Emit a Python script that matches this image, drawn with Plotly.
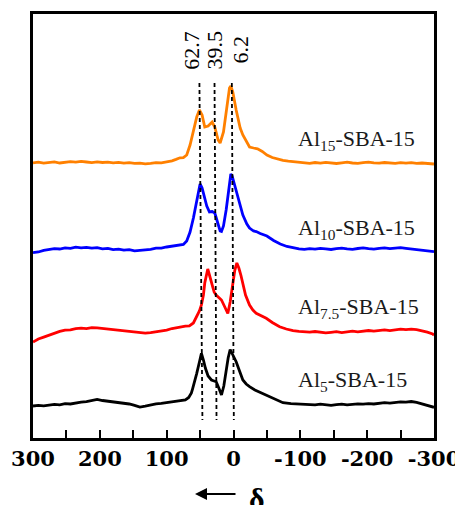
import plotly.graph_objects as go

# ---- data (chemical shift delta, intensity in arbitrary stacked units) ----
grid_left = list(range(300, 99, -8))          # 300 ... 100
grid_right = list(range(-106, -299, -8)) + [-300]

# Al15-SBA-15 (orange)
x_al15 = grid_left + [92, 86, 80, 75, 70, 65, 60, 55, 51, 47, 43, 38, 32, 28, 23, 20, 15, 10, 6, 4, 1,
                      -4, -10, -14, -20, -24, -30, -36, -43, -50, -58, -66, -74, -82, -90, -98] + grid_right
y_al15 = [275.2, 275.9, 274.8, 275.6, 276.1, 275.0, 275.7, 276.4, 275.8, 276.6, 276.0, 275.3, 276.2,
          275.5, 275.9, 275.1, 275.6, 274.9, 275.3, 274.6, 274.8, 274.2, 274.7, 275.4, 275.2, 276.1,
          277.2, 278.6, 280.2, 280.3, 283, 293, 308, 321, 328, 323, 311, 312, 316, 311, 298, 295, 306,
          328, 350, 352, 346, 328, 310, 303, 295, 291, 290, 289.2, 286.5, 283, 280.5, 278.8, 277.6,
          276.9, 276.2, 275.8,
          275.3, 274.7, 275.5, 274.9, 275.6, 275.1, 274.5, 275.2, 275.8, 275.0, 274.6, 275.4, 275.9,
          275.2, 274.8, 275.5, 275.1, 274.7, 275.3, 274.9, 275.4, 274.6, 275.0, 274.5, 274.2, 274.0]

# Al10-SBA-15 (blue)
x_al10 = grid_left + [92, 86, 80, 75, 70, 65, 60, 56, 52, 50, 47, 44, 40, 36, 32, 28, 24, 20, 18, 15, 11,
                      7, 4, 2, -2, -5, -10, -14, -20, -24, -30, -34, -40, -50, -60, -70, -80, -90, -98] + grid_right
y_al10 = [185.3, 186.0, 187.6, 188.4, 189.3, 189.0, 190.2, 189.6, 190.8, 190.1, 190.6, 189.8, 190.3,
          189.2, 189.6, 188.4, 188.9, 187.8, 188.3, 187.2, 187.6, 188.1, 188.7, 189.8, 189.9, 191.0,
          191.8, 192.4, 192.6, 193.5, 197, 206, 220, 235, 249, 254, 250, 241, 232, 226, 226.5, 225,
          216, 207, 206.5, 212, 228, 248, 264, 262, 252, 245, 232, 223, 214, 210, 207, 206.5, 204.5,
          202, 197.5, 194, 191.5, 189.8, 189.2,
          188.6, 189.3, 188.9, 189.7, 189.1, 188.5, 189.4, 189.9, 189.2, 188.7, 189.5, 190.1, 189.3,
          188.8, 189.6, 190.2, 189.4, 189.9, 190.3, 189.6, 189.0, 188.7, 188.1, 187.4, 186.9, 186.3]

# Al7.5-SBA-15 (red)
x_al75 = grid_left + [92, 85, 78, 72, 66, 60, 55, 51, 48, 45, 43, 40.5, 38.5, 36, 33, 29, 26, 22, 18, 13,
                      8.5, 5, 1, -2, -5, -8, -11, -14, -18, -24, -29, -34, -41, -49, -58, -69, -79, -89, -98] + grid_right
y_al75 = [96.0, 99.0, 100.8, 102.8, 105.0, 106.6, 107.8, 108.2, 109.4, 109.8, 109.3, 110.4, 110.2,
          109.6, 109.0, 108.6, 107.9, 107.2, 107.0, 106.1, 105.4, 104.8, 105.3, 106.0, 106.8, 107.9,
          109.5, 110.7, 111.2, 111.8, 112.2, 115, 121.3, 127, 133, 143, 155, 165, 169, 163, 154.7,
          146, 143, 140.5, 138, 131, 124.5, 136, 155, 168, 175, 170, 163, 154.7, 143, 133, 128, 124.7,
          122.5, 119.7, 115.5, 111.3, 109, 107.3, 106.6,
          106.2, 105.8, 106.5, 105.6, 105.1, 105.7, 106.3, 105.4, 106.1, 106.8, 106.2, 107.0, 107.5,
          106.9, 107.6, 108.1, 107.4, 108.2, 108.8, 108.3, 108.9, 108.4, 107.2, 105.8, 104.0, 102.8]

# Al5-SBA-15 (black)
x_al5 = grid_left + [92, 85, 78, 72, 67, 63, 61, 58, 55, 51, 48, 45, 42, 38, 33, 29, 26, 22, 18, 14.5,
                     11, 8, 5, 2, -1, -4, -9, -14, -19, -24, -32, -40, -49, -58, -66, -74, -86, -99] + grid_right
y_al5 = [32.0, 32.6, 32.2, 33.1, 33.6, 33.2, 34.3, 34.0, 35.1, 35.8, 36.4, 37.2, 38.6, 37.5, 36.8,
         36.1, 35.4, 34.9, 34.0, 32.6, 30.9, 31.8, 33.0, 34.1, 34.6, 35.4,
         36.0, 36.4, 37.0, 38.2, 40.5, 45, 49.7, 56, 64.7, 76, 84.7, 78, 69.7, 62, 58, 57, 56.3, 50,
         43, 52, 68, 80, 88.5, 84.5, 80, 76.3, 67, 58, 54, 51.3, 48, 45.5, 43, 39.5, 37.2, 35.3,
         34.4, 34.0,
         33.6, 34.1, 33.2, 33.8, 33.0, 32.7, 33.4, 33.9, 33.1, 33.6, 34.2, 33.8, 34.4, 34.0, 34.7,
         35.3, 34.8, 35.6, 36.2, 35.9, 36.5, 35.7, 34.1, 32.5, 31.2, 30.7]

series_names = ["Al<sub>15</sub>-SBA-15", "Al<sub>10</sub>-SBA-15", "Al<sub>7.5</sub>-SBA-15", "Al<sub>5</sub>-SBA-15"]
series_x = [x_al15, x_al10, x_al75, x_al5]
series_y = [y_al15, y_al10, y_al75, y_al5]
series_colors = ["#FF8000", "#0000FF", "#FF0000", "#000000"]

peak_labels = ["62.7", "39.5", "6.2"]
peak_label_x = [64, 28.5, -9]
peak_line_top_x = [51, 28.4, 2.5]
peak_line_bottom_x = [46.5, 25.4, -0.5]
peak_line_top_y = 355
peak_line_bottom_y = 18

x_tickvals = [300, 200, 100, 0, -100, -200, -300]
x_ticktext = ["300", "200", "100", "0", "-100", "-200", "-300"]

label_pos_y = [0.703, 0.492, 0.306, 0.134]   # paper y of the sample labels

SERIF = "Times New Roman, Liberation Serif, serif"

# ---- figure ----
fig = go.Figure()
for name, xs, ys, col in zip(series_names, series_x, series_y, series_colors):
    fig.add_trace(go.Scatter(x=xs, y=ys, mode="lines", name=name,
                             line=dict(color=col, width=2.8), showlegend=False))

for xt, xb in zip(peak_line_top_x, peak_line_bottom_x):
    fig.add_shape(type="line", xref="x", yref="y", x0=xt, y0=peak_line_top_y, x1=xb, y1=peak_line_bottom_y,
                  line=dict(color="black", width=1.8, dash="4px,3px"))

for txt, px in zip(peak_labels, peak_label_x):
    fig.add_annotation(x=px, y=388, xref="x", yref="y", text=txt, textangle=-90, showarrow=False,
                       xanchor="center", yanchor="middle",
                       font=dict(family=SERIF, size=22, color="black"))

for name, py in zip(series_names, label_pos_y):
    fig.add_annotation(x=0.656, y=py, xref="paper", yref="paper", text=name, showarrow=False,
                       xanchor="left", yanchor="middle",
                       font=dict(family=SERIF, size=22, color="#1a1a1a"))

# axis title:  <-  delta
fig.add_annotation(x=0.404, y=-0.132, xref="paper", yref="paper", ax=42, ay=0,
                   axref="pixel", ayref="pixel", text="", showarrow=True,
                   arrowhead=2, arrowsize=1.2, arrowwidth=2, arrowcolor="black")
fig.add_annotation(x=0.559, y=-0.098, xref="paper", yref="paper", text="δ", showarrow=False,
                   xanchor="center", yanchor="top",
                   font=dict(family=SERIF, size=30, color="black", weight="bold"))

# page body has an 8px margin: figure is placed at (8, 8) in the window
fig.update_layout(
    template="none",
    width=455, height=497,
    margin=dict(l=25, r=29, t=6, b=67, autoexpand=False),
    paper_bgcolor="white", plot_bgcolor="white",
    xaxis=dict(range=[300, -300], tickvals=x_tickvals, ticktext=x_ticktext, automargin=False,
               ticks="inside", ticklen=8, tickwidth=2, tickcolor="black",
               minor=dict(dtick=50, tick0=0, ticks="inside", ticklen=8, tickwidth=2,
                          tickcolor="black", showgrid=False),
               showline=True, linewidth=3, linecolor="black", mirror=True,
               showgrid=False, zeroline=False,
               tickfont=dict(family="DejaVu Serif", size=21, color="black", weight="bold")),
    yaxis=dict(range=[0, 424], showticklabels=False, ticks="", automargin=False,
               showline=True, linewidth=3, linecolor="black", mirror=True,
               showgrid=False, zeroline=False),
)

fig.write_html("out.html")
